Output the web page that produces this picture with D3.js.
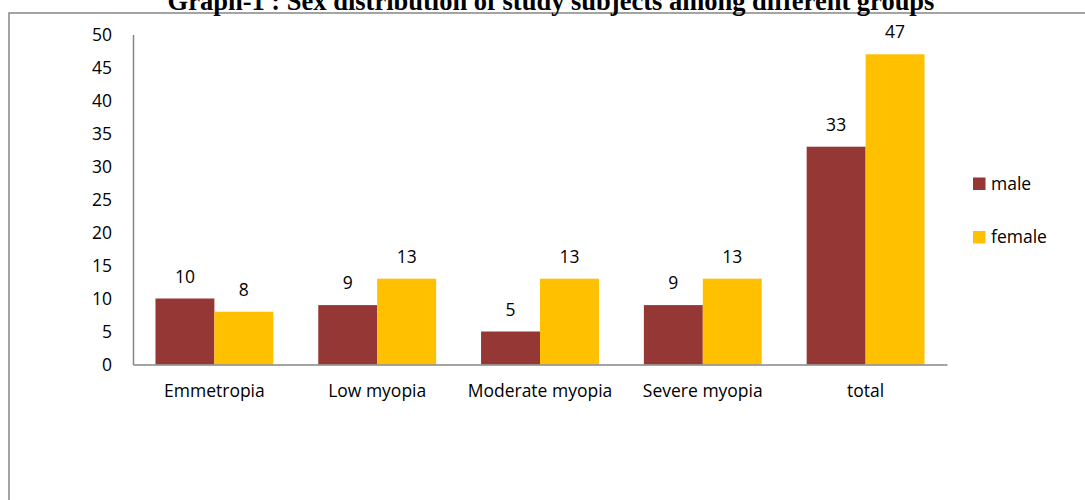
<!DOCTYPE html>
<html>
<head>
<meta charset="utf-8">
<script src="https://cdn.jsdelivr.net/npm/d3@7"></script>
<style>
  html, body { margin: 0; padding: 0; background: #fff; }
  svg { display: block; }
  .tick text { font-family: "Open Sans", "Noto Sans", sans-serif; }
</style>
</head>
<body>
<div id="chart"></div>
<script>
// dados
const categories = ['Emmetropia', 'Low myopia', 'Moderate myopia', 'Severe myopia', 'total'];
const seriesNames = ['male', 'female'];
const male = [10, 9, 5, 9, 33];
const female = [8, 13, 13, 13, 47];
const yTicks = [0, 5, 10, 15, 20, 25, 30, 35, 40, 45, 50];
const colors = ['#953735', '#FFC000'];

const W = 1085, H = 500;
const font = '"Open Sans", "Noto Sans", sans-serif';
const fs = '17.5px';

const data = categories.map((c, i) => ({ cat: c, values: [male[i], female[i]] }));

const svg = d3.select('#chart').append('svg')
  .attr('width', W)
  .attr('height', H);

// moldura (cortada à direita e embaixo)
svg.append('rect')
  .attr('x', 9).attr('y', 13)
  .attr('width', W + 20).attr('height', H + 20)
  .attr('fill', 'none')
  .attr('stroke', '#868686')
  .attr('stroke-width', 1.5);

// título (cortado no topo, como no original)
svg.append('text')
  .attr('x', 551)
  .attr('y', 10)
  .attr('text-anchor', 'middle')
  .style('font-family', '"Liberation Serif", "Times New Roman", serif')
  .style('font-weight', 'bold')
  .style('font-size', '26.5px')
  .text('Graph-1 : Sex distribution of study subjects among different groups');

// escalas
const x0 = d3.scaleBand()
  .domain(categories)
  .range([133, 947])
  .paddingInner(0.276)
  .paddingOuter(0.138);

const x1 = d3.scaleBand()
  .domain(seriesNames)
  .range([0, x0.bandwidth()]);

const y = d3.scaleLinear()
  .domain([0, 50])
  .range([364.5, 34.5]);

// barras
const groups = svg.selectAll('g.grp')
  .data(data)
  .enter()
  .append('g')
  .attr('class', 'grp')
  .attr('transform', d => `translate(${x0(d.cat)},0)`);

groups.selectAll('rect')
  .data(d => d.values.map((v, j) => ({ key: seriesNames[j], v, j })))
  .enter()
  .append('rect')
  .attr('x', d => x1(d.key))
  .attr('y', d => y(d.v))
  .attr('width', x1.bandwidth())
  .attr('height', d => y(0) - y(d.v))
  .attr('fill', d => colors[d.j]);

// rótulos de valor
groups.selectAll('text.value')
  .data(d => d.values.map((v, j) => ({ key: seriesNames[j], v, j })))
  .enter()
  .append('text')
  .attr('class', 'value')
  .attr('x', d => x1(d.key) + x1.bandwidth() / 2)
  .attr('y', d => y(d.v) - 16)
  .attr('text-anchor', 'middle')
  .style('font-family', font)
  .style('font-size', fs)
  .style('fill', '#000')
  .text(d => d.v);

// eixo Y
const yAxisG = svg.append('g')
  .attr('transform', 'translate(133,0)')
  .call(d3.axisLeft(y).tickValues(yTicks).tickSize(0).tickPadding(21));
yAxisG.select('.domain').attr('stroke', '#868686').attr('stroke-width', 1.5);
yAxisG.selectAll('text')
  .style('font-size', fs)
  .style('fill', '#000');

// eixo X
const xAxisG = svg.append('g')
  .attr('transform', `translate(0,${y(0)})`)
  .call(d3.axisBottom(x0).tickSize(0).tickPadding(20));
xAxisG.select('.domain').attr('stroke', '#868686').attr('stroke-width', 1.5);
xAxisG.selectAll('text')
  .style('font-size', fs)
  .style('fill', '#000');

// legenda
const legend = svg.selectAll('g.leg')
  .data(seriesNames)
  .enter()
  .append('g')
  .attr('class', 'leg')
  .attr('transform', (d, i) => `translate(973,${177.5 + i * 53.5})`);

legend.append('rect')
  .attr('width', 12.5)
  .attr('height', 12.5)
  .attr('fill', (d, i) => colors[i]);

legend.append('text')
  .attr('x', 18)
  .attr('y', 12)
  .style('font-family', font)
  .style('font-size', fs)
  .text(d => d);
</script>
</body>
</html>
